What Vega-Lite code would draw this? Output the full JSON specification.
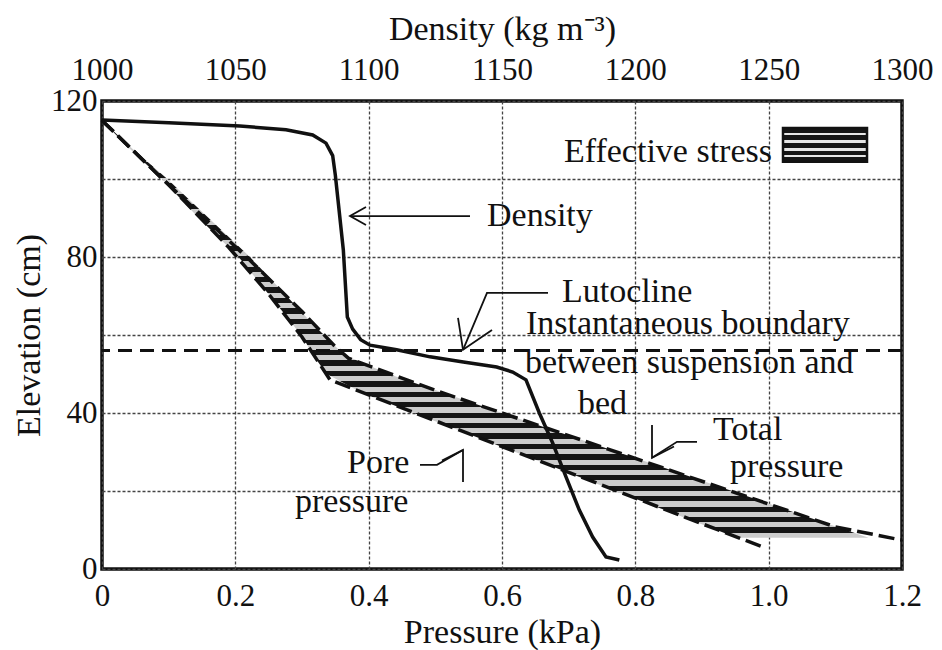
{
  "$schema": "https://vega.github.io/schema/vega-lite/v6.json",
  "width": 800,
  "height": 468,
  "autosize": {"type": "none"},
  "padding": {"left": 102, "top": 101, "right": 40, "bottom": 81},
  "background": "white",
  "config": {
    "view": {"stroke": "#111", "strokeWidth": 3.5},
    "font": "Liberation Serif",
    "axis": {
      "labelFont": "Liberation Serif", "titleFont": "Liberation Serif",
      "labelFontSize": 31, "titleFontSize": 34, "titleFontWeight": "normal",
      "labelColor": "#111", "titleColor": "#111",
      "ticks": false, "domain": false,
      "gridColor": "#444", "gridDash": [3, 2], "gridWidth": 1.3,
      "labelFlush": false, "labelOverlap": false
    },
    "text": {"font": "Liberation Serif", "fontSize": 34, "color": "#111"}
  },
  "datasets": {
    "stress": [
      {"elevation": 115, "pore": 0, "total": 0},
      {"elevation": 108, "pore": 0.04, "total": 0.044},
      {"elevation": 100, "pore": 0.09, "total": 0.098},
      {"elevation": 90, "pore": 0.145, "total": 0.16},
      {"elevation": 80, "pore": 0.205, "total": 0.222},
      {"elevation": 70, "pore": 0.252, "total": 0.277},
      {"elevation": 63, "pore": 0.285, "total": 0.315},
      {"elevation": 58, "pore": 0.306, "total": 0.345},
      {"elevation": 55, "pore": 0.316, "total": 0.362},
      {"elevation": 50, "pore": 0.337, "total": 0.43},
      {"elevation": 45, "pore": 0.392, "total": 0.515},
      {"elevation": 40, "pore": 0.468, "total": 0.6},
      {"elevation": 35, "pore": 0.544, "total": 0.687},
      {"elevation": 30, "pore": 0.62, "total": 0.773},
      {"elevation": 25, "pore": 0.695, "total": 0.86},
      {"elevation": 20, "pore": 0.77, "total": 0.945},
      {"elevation": 15, "pore": 0.846, "total": 1.03},
      {"elevation": 10, "pore": 0.922, "total": 1.116},
      {"elevation": 8, "pore": 0.952, "total": 1.15}
    ],
    "total": [
      {"pressure": 0, "elevation": 115},
      {"pressure": 0.1, "elevation": 98.5},
      {"pressure": 0.22, "elevation": 79.5},
      {"pressure": 0.3, "elevation": 66},
      {"pressure": 0.35, "elevation": 57},
      {"pressure": 0.37, "elevation": 54},
      {"pressure": 0.5, "elevation": 45.8},
      {"pressure": 0.7, "elevation": 34.2},
      {"pressure": 0.9, "elevation": 22.5},
      {"pressure": 1.1, "elevation": 10.8},
      {"pressure": 1.2, "elevation": 7.4}
    ],
    "pore": [
      {"pressure": 0, "elevation": 115},
      {"pressure": 0.1, "elevation": 98.5},
      {"pressure": 0.19, "elevation": 82.5},
      {"pressure": 0.25, "elevation": 70.5},
      {"pressure": 0.3, "elevation": 59.5},
      {"pressure": 0.342, "elevation": 48.5},
      {"pressure": 0.5, "elevation": 38},
      {"pressure": 0.7, "elevation": 24.8},
      {"pressure": 0.9, "elevation": 11.6},
      {"pressure": 0.992, "elevation": 5.6}
    ],
    "density": [
      {"density": 1000, "elevation": 115.1},
      {"density": 1025, "elevation": 114.4},
      {"density": 1051.7, "elevation": 113.6},
      {"density": 1069, "elevation": 112.6},
      {"density": 1079, "elevation": 111.3},
      {"density": 1084, "elevation": 109.2},
      {"density": 1086.5, "elevation": 106},
      {"density": 1087.5, "elevation": 101},
      {"density": 1088.5, "elevation": 94.6},
      {"density": 1090.5, "elevation": 81.8},
      {"density": 1092, "elevation": 64.6},
      {"density": 1094, "elevation": 61.5},
      {"density": 1097, "elevation": 58.8},
      {"density": 1100.5, "elevation": 57.4},
      {"density": 1110.5, "elevation": 56.2},
      {"density": 1123, "elevation": 54.4},
      {"density": 1135.5, "elevation": 53.1},
      {"density": 1148, "elevation": 51.8},
      {"density": 1154, "elevation": 50.5},
      {"density": 1159, "elevation": 48.5},
      {"density": 1164, "elevation": 40},
      {"density": 1169, "elevation": 32.3},
      {"density": 1174, "elevation": 23.6},
      {"density": 1179, "elevation": 15.1},
      {"density": 1184, "elevation": 8.2},
      {"density": 1189, "elevation": 3.1},
      {"density": 1194, "elevation": 2.3}
    ],
    "arrows": [
      {"id": "density", "k": 1, "p": 0.552, "e": 90.5},
      {"id": "density", "k": 2, "p": 0.372, "e": 90.5},
      {"id": "densityHead", "k": 1, "p": 0.396, "e": 92.8},
      {"id": "densityHead", "k": 2, "p": 0.372, "e": 90.5},
      {"id": "densityHead", "k": 3, "p": 0.396, "e": 88.2},
      {"id": "lutocline", "k": 1, "p": 0.669, "e": 70.8},
      {"id": "lutocline", "k": 2, "p": 0.5775, "e": 70.8},
      {"id": "lutocline", "k": 3, "p": 0.5415, "e": 56.2},
      {"id": "lutoclineHead", "k": 1, "p": 0.534, "e": 64.4},
      {"id": "lutoclineHead", "k": 2, "p": 0.5415, "e": 56.2},
      {"id": "lutoclineHead", "k": 3, "p": 0.585, "e": 61.3},
      {"id": "total", "k": 1, "p": 0.8925, "e": 32.6},
      {"id": "total", "k": 2, "p": 0.8625, "e": 32.6},
      {"id": "total", "k": 3, "p": 0.825, "e": 28.5},
      {"id": "totalHead", "k": 1, "p": 0.825, "e": 36.9},
      {"id": "totalHead", "k": 2, "p": 0.825, "e": 28.5},
      {"id": "totalHead", "k": 3, "p": 0.858, "e": 31.4},
      {"id": "pore", "k": 1, "p": 0.477, "e": 26.7},
      {"id": "pore", "k": 2, "p": 0.5025, "e": 26.7},
      {"id": "pore", "k": 3, "p": 0.5415, "e": 30.5},
      {"id": "poreHead", "k": 1, "p": 0.5415, "e": 22.3},
      {"id": "poreHead", "k": 2, "p": 0.5415, "e": 30.5},
      {"id": "poreHead", "k": 3, "p": 0.51, "e": 27.8}
    ],
    "labels": [
      {"text": "Density", "p": 0.5775, "e": 88},
      {"text": "Lutocline", "p": 0.69, "e": 68.4},
      {"text": "Instantaneous boundary", "p": 0.636, "e": 60.3},
      {"text": "between suspension and", "p": 0.6345, "e": 50.3},
      {"text": "bed", "p": 0.714, "e": 39.7},
      {"text": "Total", "p": 0.9165, "e": 33.1},
      {"text": "pressure", "p": 0.942, "e": 23.6},
      {"text": "Pore", "p": 0.3675, "e": 24.6},
      {"text": "pressure", "p": 0.2895, "e": 14.6}
    ]
  },
  "layer": [
    {
      "layer": [
        {
          "data": {"name": "stress"},
          "mark": {
            "type": "area", "orient": "horizontal",
            "fill": {
              "gradient": "linear", "x1": 0, "y1": 0, "x2": 0, "y2": 1,
              "stops": [
                {"offset": 0, "color": "#151515"}, {"offset": 0.0125, "color": "#151515"}, {"offset": 0.0125, "color": "#cccccc"}, {"offset": 0.025, "color": "#cccccc"},
                {"offset": 0.025, "color": "#151515"}, {"offset": 0.0375, "color": "#151515"}, {"offset": 0.0375, "color": "#cccccc"}, {"offset": 0.05, "color": "#cccccc"},
                {"offset": 0.05, "color": "#151515"}, {"offset": 0.0625, "color": "#151515"}, {"offset": 0.0625, "color": "#cccccc"}, {"offset": 0.075, "color": "#cccccc"},
                {"offset": 0.075, "color": "#151515"}, {"offset": 0.0875, "color": "#151515"}, {"offset": 0.0875, "color": "#cccccc"}, {"offset": 0.1, "color": "#cccccc"},
                {"offset": 0.1, "color": "#151515"}, {"offset": 0.1125, "color": "#151515"}, {"offset": 0.1125, "color": "#cccccc"}, {"offset": 0.125, "color": "#cccccc"},
                {"offset": 0.125, "color": "#151515"}, {"offset": 0.1375, "color": "#151515"}, {"offset": 0.1375, "color": "#cccccc"}, {"offset": 0.15, "color": "#cccccc"},
                {"offset": 0.15, "color": "#151515"}, {"offset": 0.1625, "color": "#151515"}, {"offset": 0.1625, "color": "#cccccc"}, {"offset": 0.175, "color": "#cccccc"},
                {"offset": 0.175, "color": "#151515"}, {"offset": 0.1875, "color": "#151515"}, {"offset": 0.1875, "color": "#cccccc"}, {"offset": 0.2, "color": "#cccccc"},
                {"offset": 0.2, "color": "#151515"}, {"offset": 0.2125, "color": "#151515"}, {"offset": 0.2125, "color": "#cccccc"}, {"offset": 0.225, "color": "#cccccc"},
                {"offset": 0.225, "color": "#151515"}, {"offset": 0.2375, "color": "#151515"}, {"offset": 0.2375, "color": "#cccccc"}, {"offset": 0.25, "color": "#cccccc"},
                {"offset": 0.25, "color": "#151515"}, {"offset": 0.2625, "color": "#151515"}, {"offset": 0.2625, "color": "#cccccc"}, {"offset": 0.275, "color": "#cccccc"},
                {"offset": 0.275, "color": "#151515"}, {"offset": 0.2875, "color": "#151515"}, {"offset": 0.2875, "color": "#cccccc"}, {"offset": 0.3, "color": "#cccccc"},
                {"offset": 0.3, "color": "#151515"}, {"offset": 0.3125, "color": "#151515"}, {"offset": 0.3125, "color": "#cccccc"}, {"offset": 0.325, "color": "#cccccc"},
                {"offset": 0.325, "color": "#151515"}, {"offset": 0.3375, "color": "#151515"}, {"offset": 0.3375, "color": "#cccccc"}, {"offset": 0.35, "color": "#cccccc"},
                {"offset": 0.35, "color": "#151515"}, {"offset": 0.3625, "color": "#151515"}, {"offset": 0.3625, "color": "#cccccc"}, {"offset": 0.375, "color": "#cccccc"},
                {"offset": 0.375, "color": "#151515"}, {"offset": 0.3875, "color": "#151515"}, {"offset": 0.3875, "color": "#cccccc"}, {"offset": 0.4, "color": "#cccccc"},
                {"offset": 0.4, "color": "#151515"}, {"offset": 0.4125, "color": "#151515"}, {"offset": 0.4125, "color": "#cccccc"}, {"offset": 0.425, "color": "#cccccc"},
                {"offset": 0.425, "color": "#151515"}, {"offset": 0.4375, "color": "#151515"}, {"offset": 0.4375, "color": "#cccccc"}, {"offset": 0.45, "color": "#cccccc"},
                {"offset": 0.45, "color": "#151515"}, {"offset": 0.4625, "color": "#151515"}, {"offset": 0.4625, "color": "#cccccc"}, {"offset": 0.475, "color": "#cccccc"},
                {"offset": 0.475, "color": "#151515"}, {"offset": 0.4875, "color": "#151515"}, {"offset": 0.4875, "color": "#cccccc"}, {"offset": 0.5, "color": "#cccccc"},
                {"offset": 0.5, "color": "#151515"}, {"offset": 0.5125, "color": "#151515"}, {"offset": 0.5125, "color": "#cccccc"}, {"offset": 0.525, "color": "#cccccc"},
                {"offset": 0.525, "color": "#151515"}, {"offset": 0.5375, "color": "#151515"}, {"offset": 0.5375, "color": "#cccccc"}, {"offset": 0.55, "color": "#cccccc"},
                {"offset": 0.55, "color": "#151515"}, {"offset": 0.5625, "color": "#151515"}, {"offset": 0.5625, "color": "#cccccc"}, {"offset": 0.575, "color": "#cccccc"},
                {"offset": 0.575, "color": "#151515"}, {"offset": 0.5875, "color": "#151515"}, {"offset": 0.5875, "color": "#cccccc"}, {"offset": 0.6, "color": "#cccccc"},
                {"offset": 0.6, "color": "#151515"}, {"offset": 0.6125, "color": "#151515"}, {"offset": 0.6125, "color": "#cccccc"}, {"offset": 0.625, "color": "#cccccc"},
                {"offset": 0.625, "color": "#151515"}, {"offset": 0.6375, "color": "#151515"}, {"offset": 0.6375, "color": "#cccccc"}, {"offset": 0.65, "color": "#cccccc"},
                {"offset": 0.65, "color": "#151515"}, {"offset": 0.6625, "color": "#151515"}, {"offset": 0.6625, "color": "#cccccc"}, {"offset": 0.675, "color": "#cccccc"},
                {"offset": 0.675, "color": "#151515"}, {"offset": 0.6875, "color": "#151515"}, {"offset": 0.6875, "color": "#cccccc"}, {"offset": 0.7, "color": "#cccccc"},
                {"offset": 0.7, "color": "#151515"}, {"offset": 0.7125, "color": "#151515"}, {"offset": 0.7125, "color": "#cccccc"}, {"offset": 0.725, "color": "#cccccc"},
                {"offset": 0.725, "color": "#151515"}, {"offset": 0.7375, "color": "#151515"}, {"offset": 0.7375, "color": "#cccccc"}, {"offset": 0.75, "color": "#cccccc"},
                {"offset": 0.75, "color": "#151515"}, {"offset": 0.7625, "color": "#151515"}, {"offset": 0.7625, "color": "#cccccc"}, {"offset": 0.775, "color": "#cccccc"},
                {"offset": 0.775, "color": "#151515"}, {"offset": 0.7875, "color": "#151515"}, {"offset": 0.7875, "color": "#cccccc"}, {"offset": 0.8, "color": "#cccccc"},
                {"offset": 0.8, "color": "#151515"}, {"offset": 0.8125, "color": "#151515"}, {"offset": 0.8125, "color": "#cccccc"}, {"offset": 0.825, "color": "#cccccc"},
                {"offset": 0.825, "color": "#151515"}, {"offset": 0.8375, "color": "#151515"}, {"offset": 0.8375, "color": "#cccccc"}, {"offset": 0.85, "color": "#cccccc"},
                {"offset": 0.85, "color": "#151515"}, {"offset": 0.8625, "color": "#151515"}, {"offset": 0.8625, "color": "#cccccc"}, {"offset": 0.875, "color": "#cccccc"},
                {"offset": 0.875, "color": "#151515"}, {"offset": 0.8875, "color": "#151515"}, {"offset": 0.8875, "color": "#cccccc"}, {"offset": 0.9, "color": "#cccccc"},
                {"offset": 0.9, "color": "#151515"}, {"offset": 0.9125, "color": "#151515"}, {"offset": 0.9125, "color": "#cccccc"}, {"offset": 0.925, "color": "#cccccc"},
                {"offset": 0.925, "color": "#151515"}, {"offset": 0.9375, "color": "#151515"}, {"offset": 0.9375, "color": "#cccccc"}, {"offset": 0.95, "color": "#cccccc"},
                {"offset": 0.95, "color": "#151515"}, {"offset": 0.9625, "color": "#151515"}, {"offset": 0.9625, "color": "#cccccc"}, {"offset": 0.975, "color": "#cccccc"},
                {"offset": 0.975, "color": "#151515"}, {"offset": 0.9875, "color": "#151515"}, {"offset": 0.9875, "color": "#cccccc"}, {"offset": 1, "color": "#cccccc"}
              ]
            }
          },
          "encoding": {
            "y": {
              "field": "elevation", "type": "quantitative",
              "scale": {"domain": [0, 120], "nice": false, "zero": false},
              "axis": {
                "values": [0, 20, 40, 60, 80, 100, 120],
                "labelExpr": "datum.value % 40 == 0 ? datum.label : ''",
                "labelFont": "Liberation Serif", "titleFont": "Liberation Serif",
                "labelFontSize": 31, "titleFontSize": 34, "titleFontWeight": "normal",
                "labelColor": "#111", "titleColor": "#111",
                "title": "Elevation (cm)", "labelPadding": 5, "titlePadding": 4, "grid": true
              }
            },
            "x": {
              "field": "pore", "type": "quantitative",
              "scale": {"domain": [0, 1.2], "nice": false, "zero": false},
              "axis": {
                "values": [0, 0.2, 0.4, 0.6, 0.8, 1, 1.2],
                "labelExpr": "datum.value == 0 ? '0' : format(datum.value, '.1f')",
                "labelFont": "Liberation Serif", "titleFont": "Liberation Serif",
                "labelFontSize": 31, "titleFontSize": 34, "titleFontWeight": "normal",
                "labelColor": "#111", "titleColor": "#111",
                "title": "Pressure (kPa)", "labelPadding": 12, "titlePadding": 4, "grid": true
              }
            },
            "x2": {"field": "total"}
          }
        },
        {
          "data": {"name": "total"},
          "mark": {"type": "line", "stroke": "#111", "strokeWidth": 3.5, "strokeDash": [16, 6]},
          "encoding": {
            "x": {"field": "pressure", "type": "quantitative"},
            "y": {"field": "elevation", "type": "quantitative"}
          }
        },
        {
          "data": {"name": "pore"},
          "mark": {"type": "line", "stroke": "#111", "strokeWidth": 3.5, "strokeDash": [16, 6]},
          "encoding": {
            "x": {"field": "pressure", "type": "quantitative"},
            "y": {"field": "elevation", "type": "quantitative"}
          }
        },
        {
          "data": {"values": [{"elevation": 56}]},
          "mark": {"type": "rule", "stroke": "#111", "strokeWidth": 3, "strokeDash": [14, 8]},
          "encoding": {
            "y": {"field": "elevation", "type": "quantitative"}
          }
        },
        {
          "data": {"name": "arrows"},
          "mark": {"type": "line", "stroke": "#111", "strokeWidth": 1.8},
          "encoding": {
            "x": {"field": "p", "type": "quantitative"},
            "y": {"field": "e", "type": "quantitative"},
            "detail": {"field": "id"},
            "order": {"field": "k"}
          }
        },
        {
          "data": {"name": "labels"},
          "mark": {"type": "text", "align": "left", "baseline": "alphabetic"},
          "encoding": {
            "x": {"field": "p", "type": "quantitative"},
            "y": {"field": "e", "type": "quantitative"},
            "text": {"field": "text"}
          }
        },
        {
          "data": {"values": [{"text": "Effective stress", "p": 1.005, "e": 104.3}]},
          "mark": {"type": "text", "align": "right", "baseline": "alphabetic"},
          "encoding": {
            "x": {"field": "p", "type": "quantitative"},
            "y": {"field": "e", "type": "quantitative"},
            "text": {"field": "text"}
          }
        },
        {
          "data": {"values": [{"x": 1.0215, "x2": 1.1475, "y": 113.1, "y2": 104.4}]},
          "mark": {
            "type": "rect", "stroke": "#111", "strokeWidth": 2.5,
            "fill": {
              "gradient": "linear", "x1": 0, "y1": 0, "x2": 0, "y2": 1,
              "stops": [
                {"offset": 0, "color": "#151515"}, {"offset": 0.15, "color": "#151515"}, {"offset": 0.15, "color": "#e6e6e6"}, {"offset": 0.22, "color": "#e6e6e6"},
                {"offset": 0.22, "color": "#151515"}, {"offset": 0.37, "color": "#151515"}, {"offset": 0.37, "color": "#e6e6e6"}, {"offset": 0.44, "color": "#e6e6e6"},
                {"offset": 0.44, "color": "#151515"}, {"offset": 0.6, "color": "#151515"}, {"offset": 0.6, "color": "#e6e6e6"}, {"offset": 0.67, "color": "#e6e6e6"},
                {"offset": 0.67, "color": "#151515"}, {"offset": 0.8, "color": "#151515"}, {"offset": 0.8, "color": "#e6e6e6"}, {"offset": 0.86, "color": "#e6e6e6"},
                {"offset": 0.86, "color": "#151515"}, {"offset": 1, "color": "#151515"}
              ]
            }
          },
          "encoding": {
            "x": {"field": "x", "type": "quantitative"},
            "x2": {"field": "x2"},
            "y": {"field": "y", "type": "quantitative"},
            "y2": {"field": "y2"}
          }
        }
      ]
    },
    {
      "data": {"name": "density"},
      "mark": {"type": "line", "stroke": "#111", "strokeWidth": 3.5},
      "encoding": {
        "x": {
          "field": "density", "type": "quantitative",
          "scale": {"domain": [1000, 1300], "nice": false, "zero": false},
          "axis": {
            "orient": "top", "values": [1000, 1050, 1100, 1150, 1200, 1250, 1300],
            "format": "d", "grid": false,
            "title": "Density (kg m⁻³)", "labelPadding": 15, "titlePadding": 8
          }
        },
        "y": {"field": "elevation", "type": "quantitative"}
      }
    }
  ],
  "resolve": {"scale": {"x": "independent"}}
}
